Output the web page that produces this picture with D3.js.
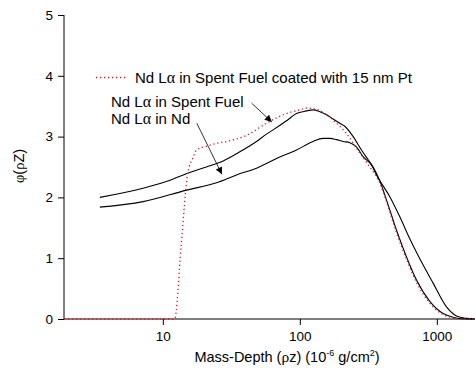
<!DOCTYPE html>
<html>
<head>
<meta charset="utf-8">
<script src="https://cdn.jsdelivr.net/npm/d3@7"></script>
<style>
  body { margin: 0; background: #fff; }
  svg { display: block; }
  .axis path, .axis line { stroke: #000; stroke-width: 1; }
  .axis text { font-family: "Liberation Sans", Arial, sans-serif; font-size: 13.5px; fill: #000; }
</style>
</head>
<body>
<svg></svg>
<script>
// Mass-depth (10^-6 g/cm2) and phi(rho z)
const fuelDepth = [3.47, 7.18, 10.6, 15.7, 20.8, 27.6, 36.5, 48.3, 57.1, 63.8, 80, 94.6, 105, 125, 140, 157, 175, 196, 213, 245, 282, 315, 343, 384, 429, 508, 601, 711, 889, 1112, 1309, 1500, 1892];
const fuelPhi   = [2.00, 2.15, 2.26, 2.41, 2.50, 2.60, 2.75, 2.92, 3.04, 3.11, 3.26, 3.38, 3.41, 3.44, 3.41, 3.36, 3.29, 3.22, 3.17, 3.00, 2.78, 2.62, 2.50, 2.27, 1.96, 1.46, 1.02, 0.64, 0.29, 0.09, 0.03, 0.005, 0];

const ndDepth = [3.47, 7.18, 14.9, 24.7, 34.5, 48.3, 67.6, 94.6, 125, 148, 166, 185, 207, 232, 259, 290, 334, 363, 454, 537, 635, 740, 940, 1177, 1394, 1648, 1892];
const ndPhi   = [1.84, 1.93, 2.12, 2.24, 2.37, 2.48, 2.64, 2.78, 2.92, 2.97, 2.97, 2.95, 2.92, 2.90, 2.83, 2.67, 2.53, 2.37, 2.01, 1.68, 1.32, 1.02, 0.59, 0.20, 0.05, 0.01, 0];

const ptDepth = [1.9, 5, 12.2, 13.6, 15.2, 16.6, 17.6, 20.8, 24.7, 29.2, 40.8, 57.1, 80, 100, 112, 125, 140, 175, 219, 274, 324, 384, 429, 508, 601, 711, 889, 1112, 1309, 1500, 1892];
const ptPhi   = [0, 0, 0, 1.20, 2.40, 2.65, 2.78, 2.84, 2.89, 2.92, 3.02, 3.22, 3.38, 3.44, 3.47, 3.46, 3.43, 3.27, 3.05, 2.73, 2.50, 2.23, 1.93, 1.42, 0.98, 0.60, 0.26, 0.07, 0.02, 0, 0];

const xMajor = [10, 100, 1000];
const yMajor = [0, 1, 2, 3, 4, 5];

const width = 475, height = 370;
const plot = { left: 64, right: 475, top: 15, bottom: 319 };
const font = '"Liberation Sans", Arial, sans-serif';
const greek = '"Liberation Serif", "DejaVu Serif", serif';

const svg = d3.select('svg')
  .attr('width', width)
  .attr('height', height);

const x = d3.scaleLog().domain([1.9, 1900]).range([plot.left, plot.right]);
const y = d3.scaleLinear().domain([0, 5]).range([plot.bottom, plot.top]);

// minor ticks: 2..9 of every decade inside the domain
let xMinor = [];
[1, 10, 100, 1000].forEach(dec => {
  for (let k = 2; k <= 9; k++) {
    const v = dec * k;
    if (v >= 1.9 && v <= 1900) xMinor.push(v);
  }
});
const yMinor = d3.range(0.5, 5, 1);

// X axis
const xAxis = svg.append('g')
  .attr('class', 'axis x')
  .attr('transform', `translate(0, ${plot.bottom})`);
xAxis.call(d3.axisBottom(x).tickValues(xMinor).tickSize(3).tickFormat(''));
xAxis.call(d3.axisBottom(x).tickValues(xMajor).tickSize(6).tickPadding(6).tickFormat(d3.format('d')));
xAxis.selectAll('.domain').attr('d', `M${plot.left},0H${plot.right}`);

// Y axis
const yAxis = svg.append('g')
  .attr('class', 'axis y')
  .attr('transform', `translate(${plot.left}, 0)`);
yAxis.call(d3.axisLeft(y).tickValues(yMinor).tickSize(3).tickFormat(''));
yAxis.call(d3.axisLeft(y).tickValues(yMajor).tickSize(6).tickPadding(5).tickFormat(d3.format('d')));
yAxis.selectAll('.domain').attr('d', `M0,${plot.bottom}V${plot.top}`);

// curves
const line = d3.line()
  .x(d => x(d[0]))
  .y(d => y(d[1]))
  .curve(d3.curveMonotoneX);

const zip = (a, b) => a.map((v, i) => [v, b[i]]);

svg.append('path')
  .datum(zip(fuelDepth, fuelPhi))
  .attr('d', line)
  .attr('fill', 'none')
  .attr('stroke', '#000')
  .attr('stroke-width', 1.1);

svg.append('path')
  .datum(zip(ndDepth, ndPhi))
  .attr('d', line)
  .attr('fill', 'none')
  .attr('stroke', '#000')
  .attr('stroke-width', 1.1);

svg.append('path')
  .datum(zip(ptDepth, ptPhi))
  .attr('d', line)
  .attr('fill', 'none')
  .attr('stroke', '#d2202a')
  .attr('stroke-width', 1.3)
  .attr('stroke-dasharray', '1.3,2.7');

// legend / annotations
const label = (g, px, py, before, after) => {
  const t = g.append('text')
    .attr('x', px).attr('y', py)
    .attr('font-family', font)
    .attr('font-size', 15)
    .attr('fill', '#000');
  t.append('tspan').text(before);
  t.append('tspan').attr('font-family', greek).attr('font-size', 16).text('α');
  t.append('tspan').text(after);
  return t;
};

const ann = svg.append('g');
ann.append('line')
  .attr('x1', 96).attr('x2', 128)
  .attr('y1', 77.5).attr('y2', 77.5)
  .attr('stroke', '#d2202a')
  .attr('stroke-width', 1.3)
  .attr('stroke-dasharray', '1.3,2.7');
label(ann, 135, 82.5, 'Nd L', ' in Spent Fuel coated with 15 nm Pt');
label(ann, 111, 107, 'Nd L', ' in Spent Fuel');
label(ann, 111, 124, 'Nd L', ' in Nd');

svg.append('defs').append('marker')
  .attr('id', 'arrow')
  .attr('viewBox', '0 0 10 10')
  .attr('refX', 10).attr('refY', 5)
  .attr('markerWidth', 9).attr('markerHeight', 7)
  .attr('markerUnits', 'userSpaceOnUse')
  .attr('orient', 'auto')
  .append('path')
  .attr('d', 'M0,0L10,5L0,10Z')
  .attr('fill', '#000');

// arrow tails/heads in data units
const arrows = [
  { from: [44.5, 3.55], to: [62.5, 3.24] },
  { from: [17.7, 3.22], to: [27.0, 2.38] }
];
ann.selectAll('.arrow')
  .data(arrows)
  .enter().append('line')
  .attr('class', 'arrow')
  .attr('x1', d => x(d.from[0])).attr('y1', d => y(d.from[1]))
  .attr('x2', d => x(d.to[0])).attr('y2', d => y(d.to[1]))
  .attr('stroke', '#000')
  .attr('stroke-width', 0.8)
  .attr('marker-end', 'url(#arrow)');

// axis titles
const xt = svg.append('text')
  .attr('x', 287).attr('y', 362)
  .attr('text-anchor', 'middle')
  .attr('font-family', font)
  .attr('font-size', 14.5);
xt.append('tspan').text('Mass-Depth (');
xt.append('tspan').attr('font-family', greek).attr('font-size', 15.5).text('ρ');
xt.append('tspan').text('z) (10');
xt.append('tspan').attr('font-size', 9).attr('dy', -6).text('-6');
xt.append('tspan').attr('dy', 6).text(' g/cm');
xt.append('tspan').attr('font-size', 9).attr('dy', -6).text('2');
xt.append('tspan').attr('dy', 6).text(')');

const yt = svg.append('text')
  .attr('transform', 'translate(24, 166) rotate(-90)')
  .attr('text-anchor', 'middle')
  .attr('font-family', greek)
  .attr('font-size', 14.5);
yt.append('tspan').text('φ');
yt.append('tspan').attr('font-family', font).text('(');
yt.append('tspan').text('ρ');
yt.append('tspan').attr('font-family', font).text('Z)');
</script>
</body>
</html>
